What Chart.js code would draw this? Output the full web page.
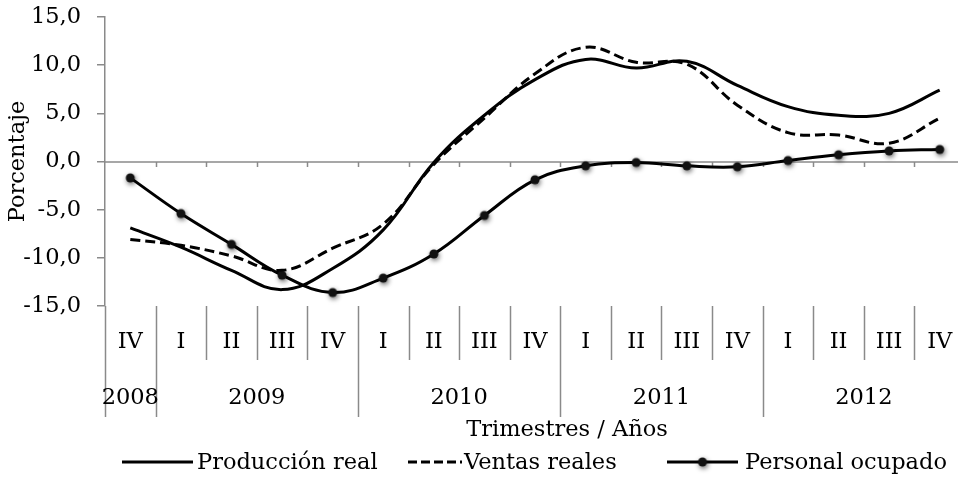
<!DOCTYPE html>
<html lang="es">
<head>
<meta charset="utf-8">
<title>Producción real, ventas reales y personal ocupado</title>
<script src="https://cdn.jsdelivr.net/npm/chart.js@4.4.1/dist/chart.umd.min.js"></script>
<style>
  html, body { margin: 0; padding: 0; background: #fff; overflow: hidden; }
  #wrap { width: 975px; height: 477px; }
</style>
</head>
<body>
<div id="wrap"><canvas id="chart" width="975" height="477"></canvas></div>
<script>
// trimestres IV-2008 .. IV-2012
const quarters = ['IV', 'I', 'II', 'III', 'IV', 'I', 'II', 'III', 'IV', 'I', 'II', 'III', 'IV', 'I', 'II', 'III', 'IV'];
const years = ['2008', '2009', '2010', '2011', '2012'];
const quartersPerYear = [1, 4, 4, 4, 4];

// variación porcentual
const produccionReal = [-6.9, -8.9, -11.3, -13.3, -11.1, -7.1, -0.1, 4.8, 8.5, 10.6, 9.7, 10.4, 7.9, 5.7, 4.8, 5.0, 7.4];
const ventasReales = [-8.1, -8.7, -9.8, -11.3, -9.0, -6.5, -0.3, 4.5, 9.1, 11.85, 10.3, 10.1, 5.85, 3.0, 2.75, 1.9, 4.5];
const personalOcupado = [-1.7, -5.4, -8.6, -11.8, -13.6, -12.1, -9.6, -5.6, -1.9, -0.45, -0.1, -0.45, -0.55, 0.1, 0.7, 1.1, 1.25];

const yTicks = [-15, -10, -5, 0, 5, 10, 15];

const AXIS_GRAY = '#8a8a8a';
const FONT_FAMILY = '"DejaVu Serif", serif';
const FONT_SIZE = 22.5;
const FONT = FONT_SIZE + 'px ' + FONT_FAMILY;

Chart.defaults.font.family = FONT_FAMILY;
Chart.defaults.font.size = FONT_SIZE;
Chart.defaults.color = '#000';

// black dot with a soft grey shadow, used as point style
function makeMarker() {
  const c = document.createElement('canvas');
  c.width = 24; c.height = 24;
  const g = c.getContext('2d');
  g.shadowColor = 'rgba(0,0,0,0.6)';
  g.shadowBlur = 5;
  g.shadowOffsetX = 1;
  g.shadowOffsetY = 2;
  g.fillStyle = '#111';
  g.beginPath();
  g.arc(12, 12, 4.5, 0, Math.PI * 2);
  g.fill();
  return c;
}
const marker = makeMarker();

const fmt = v => v.toFixed(1).replace('.', ',');

// zero line, two-level category labels, axis title and legend
const quarterAxis = {
  id: 'quarterAxis',
  beforeDatasetsDraw(chart) {
    const { ctx, chartArea: a, scales: { x, y } } = chart;
    const zeroY = Math.round(y.getPixelForValue(0));
    const half = (x.getPixelForValue(1) - x.getPixelForValue(0)) / 2;
    ctx.save();
    ctx.strokeStyle = AXIS_GRAY;
    ctx.lineWidth = 1.5;
    ctx.beginPath();
    ctx.moveTo(a.left, zeroY);
    ctx.lineTo(a.right, zeroY);
    for (let i = 0; i < quarters.length; i++) {
      const bx = Math.round(x.getPixelForValue(i) + half) + 0.5;
      ctx.moveTo(bx, zeroY);
      ctx.lineTo(bx, zeroY + 5);
    }
    ctx.stroke();
    ctx.restore();
  },
  afterDraw(chart) {
    const { ctx, chartArea: a, scales: { x } } = chart;
    const half = (x.getPixelForValue(1) - x.getPixelForValue(0)) / 2;
    const quarterBottom = a.bottom + 54;
    const yearBottom = a.bottom + 111;

    // which boundaries start a new year
    const yearStarts = [0];
    quartersPerYear.forEach(n => yearStarts.push(yearStarts[yearStarts.length - 1] + n));

    ctx.save();
    ctx.strokeStyle = AXIS_GRAY;
    ctx.lineWidth = 1.5;
    ctx.beginPath();
    for (let i = 0; i <= quarters.length; i++) {
      const bx = Math.round(x.getPixelForValue(i) - half) + 0.5;
      ctx.moveTo(bx, a.bottom);
      ctx.lineTo(bx, yearStarts.includes(i) ? yearBottom : quarterBottom);
    }
    ctx.stroke();

    ctx.fillStyle = '#000';
    ctx.font = FONT;
    ctx.textAlign = 'center';
    ctx.textBaseline = 'middle';
    quarters.forEach((q, i) => ctx.fillText(q, x.getPixelForValue(i), a.bottom + 36));
    years.forEach((yr, k) => {
      const first = yearStarts[k], last = yearStarts[k + 1] - 1;
      const cx = (x.getPixelForValue(first) + x.getPixelForValue(last)) / 2;
      ctx.fillText(yr, cx, a.bottom + 92);
    });

    ctx.fillText('Trimestres / Años', 567, a.bottom + 124);

    // legend: sample line then label, each entry at its own start
    const items = [
      { text: 'Producción real', x: 122, dash: [], sample: 71, gap: 4, marker: false },
      { text: 'Ventas reales', x: 408, dash: [9, 4], sample: 54, gap: 2, marker: false },
      { text: 'Personal ocupado', x: 667, dash: [], sample: 71, gap: 7, marker: true }
    ];
    const ly = a.bottom + 156;
    ctx.textAlign = 'left';
    items.forEach(it => {
      ctx.strokeStyle = '#000';
      ctx.lineWidth = 3;
      ctx.setLineDash(it.dash);
      ctx.beginPath();
      ctx.moveTo(it.x, ly);
      ctx.lineTo(it.x + it.sample, ly);
      ctx.stroke();
      ctx.setLineDash([]);
      if (it.marker) {
        ctx.drawImage(marker, it.x + it.sample / 2 - 12, ly - 12);
      }
      ctx.fillText(it.text, it.x + it.sample + it.gap, ly + 1);
    });
    ctx.restore();
  }
};

new Chart(document.getElementById('chart'), {
  type: 'line',
  data: {
    labels: quarters,
    datasets: [
      {
        label: 'Producción real',
        data: produccionReal,
        borderColor: '#000',
        borderWidth: 3,
        pointRadius: 0,
        tension: 0.4,
        fill: false
      },
      {
        label: 'Ventas reales',
        data: ventasReales,
        borderColor: '#000',
        borderWidth: 3,
        borderDash: [10, 5],
        pointRadius: 0,
        tension: 0.4,
        fill: false
      },
      {
        label: 'Personal ocupado',
        data: personalOcupado,
        borderColor: '#000',
        borderWidth: 3,
        pointStyle: marker,
        pointRadius: 5,
        tension: 0.4,
        fill: false
      }
    ]
  },
  options: {
    responsive: false,
    animation: false,
    devicePixelRatio: 1,
    layout: { padding: { top: 17, right: 10, bottom: 171, left: 0 } },
    plugins: {
      legend: { display: false },
      tooltip: { enabled: false }
    },
    scales: {
      x: { type: 'category', display: false, offset: true },
      y: {
        min: yTicks[0],
        max: yTicks[yTicks.length - 1],
        ticks: { stepSize: yTicks[1] - yTicks[0], padding: 16, color: '#000', callback: v => fmt(v) },
        grid: { drawOnChartArea: false, drawTicks: true, tickLength: 8, color: AXIS_GRAY, lineWidth: 1.5 },
        border: { display: true, color: AXIS_GRAY, width: 1.5 },
        title: { display: true, text: 'Porcentaje', color: '#000', padding: { top: 5, bottom: 0 } },
        afterFit(scale) {
          scale.width = 105;
          scale.paddingTop = 0;
          scale.paddingBottom = 0;
        }
      }
    }
  },
  plugins: [quarterAxis]
});
</script>
</body>
</html>
